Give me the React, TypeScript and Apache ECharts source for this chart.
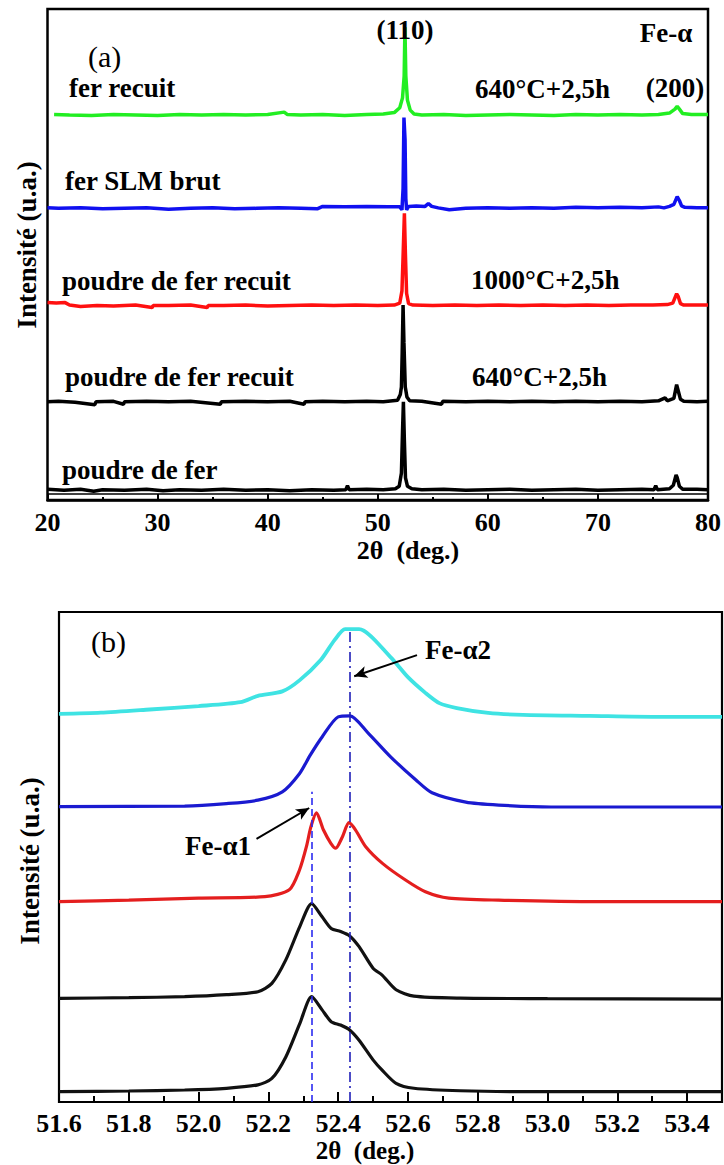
import React, { useEffect, useRef } from "react";
import * as echarts from "echarts";

const FONT = "Liberation Serif, Times New Roman, serif";

// ---------- Panel (a): wide-range XRD patterns ----------
const aTickValues = [20, 30, 40, 50, 60, 70, 80];
const aSeriesNames = [
  "poudre de fer",
  "poudre de fer recuit 640°C+2,5h",
  "poudre de fer recuit 1000°C+2,5h",
  "fer SLM brut",
  "fer recuit 640°C+2,5h",
];
const aColors = ["#000000", "#000000", "#ff1010", "#1010f0", "#22ee22"];
const aOffsets = [2, 20, 39.6, 59.4, 78.4];

const aPoudre = [
  [20, 0.2], [21.5, 0], [23, 0.2], [24.2, -0.2], [25, 0.1], [27, 0], [29, 0.2], [30.5, -0.1],
  [32, 0.1], [34, 0], [36, 0.2], [38, 0], [40, 0.1], [42, -0.1], [44, 0.1], [46, 0],
  [47.1, 0.1], [47.25, 0.9], [47.4, 0.1], [49, 0.2], [50.5, 0.1], [51.6, 0.3], [51.95, 0.8],
  [52.15, 3.5], [52.25, 12], [52.33, 18.0], [52.42, 10], [52.52, 2.5], [52.7, 0.8], [53.1, 0.3],
  [54, 0.1], [56, 0.2], [58, 0], [60, 0.1], [62, 0.2], [64, 0], [66, 0.1], [68, 0.2], [70, 0],
  [72, 0.1], [74, 0.2], [75.1, 0.1], [75.25, 0.9], [75.4, 0.1], [76.5, 0.3], [76.85, 1.0],
  [77.1, 3.1], [77.2, 2.6], [77.4, 0.8], [77.7, 0.2], [79, 0.2], [80, 0.1],
];
const aRecuit640 = [
  [20, 0], [21, 0.1], [22.5, -0.1], [24.3, -0.6], [24.4, 0], [26, 0.1], [26.9, -0.5], [27, 0],
  [29, 0.1], [31, 0], [33, 0.1], [35.7, -0.5], [35.8, 0], [38, 0.1], [40, 0], [42, 0.1],
  [43.3, -0.5], [43.4, 0], [45, 0.1], [47, 0], [49, 0.1], [50.5, 0], [51.8, 0.3], [52.05, 1.5],
  [52.15, 3], [52.22, 10], [52.3, 19.7], [52.38, 12], [52.5, 3], [52.65, 1.0], [52.9, 0.2],
  [54, 0.1], [55.8, -0.5], [55.9, 0.1], [58, 0], [60, 0.1], [62, 0], [64, 0.1], [66, 0],
  [68, 0.1], [70, 0], [72, 0.1], [74, 0], [75.5, 0.2], [76.1, 0.8], [76.3, 0.2], [76.9, 0.7],
  [77.15, 3.5], [77.3, 2.2], [77.5, 0.5], [77.8, 0.1], [79, 0], [80, 0.1],
];
const aRecuit1000 = [
  [20, 0.6], [20.8, 0.5], [21.6, 0.6], [22, 0.1], [23, -0.2], [24.5, 0], [26, -0.1], [28, 0.1],
  [29.5, -0.4], [29.6, 0], [31, 0], [33, 0.1], [34.5, -0.4], [34.6, 0], [36, 0], [38, 0.1],
  [40, -0.1], [42, 0], [44, 0.1], [46, 0], [48, 0.1], [50, 0], [51.5, 0.1], [52.0, 0.5],
  [52.2, 3], [52.3, 10], [52.42, 18.8], [52.52, 10], [52.62, 2.5], [52.8, 0.4], [53.2, 0.1],
  [55, 0], [57, 0.1], [59, 0], [61, 0.1], [63, 0], [65, 0.1], [67, 0], [69, 0.1], [71, 0],
  [73, 0.1], [75, 0.1], [76.3, 0.2], [76.8, 0.5], [77.15, 2.4], [77.3, 1.8], [77.5, 0.4],
  [77.8, 0.1], [79, 0.1], [80, 0.1],
];
const aSlmBrut = [
  [20, 0.1], [21, 0], [23, 0.1], [25, -0.1], [27, 0], [29, 0.1], [31, -0.2], [33, 0], [35, 0.1],
  [37, -0.1], [39, 0], [41, 0.1], [43, 0], [44.5, -0.1], [45, 0.4], [47, 0.3], [49, 0.4],
  [51, 0.3], [52.0, 0.3], [52.2, -0.3], [52.3, 4], [52.38, 18.5], [52.48, 14], [52.55, 2],
  [52.62, -0.3], [52.8, 0.4], [53.5, 0.5], [54.3, 0.4], [54.6, 1.0], [54.9, 0.4], [55.5, 0.1],
  [56.5, -0.3], [58, 0], [60, 0.1], [62, 0], [64, 0.1], [66, 0], [68, 0.2], [70, 0.1], [72, 0.2],
  [74, 0.1], [75.5, 0.3], [76, 0.1], [76.5, 0.4], [76.9, 0.8], [77.2, 2.4], [77.4, 1.6],
  [77.6, 0.5], [77.9, 0.2], [79, 0.1], [80, 0.1],
];
const aFerRecuit = [
  [20.6, 0.1], [22, 0], [24, -0.1], [26, 0.1], [28, 0], [30, -0.1], [32, 0.1], [34, 0], [36, 0.1],
  [38, 0], [40, 0.1], [41.5, 0.6], [41.8, 0.1], [43, 0], [45, 0.1], [47, -0.1], [49, 0.1],
  [50.5, 0.2], [51.5, 0.5], [52.0, 1.5], [52.25, 3.5], [52.4, 8], [52.47, 17.9], [52.55, 8],
  [52.7, 3], [52.95, 1.0], [53.3, 0.2], [54, 0], [56, 0.1], [58, -0.1], [60, 0], [62, 0.1],
  [64, 0], [66, -0.1], [68, 0.1], [70, 0], [72, 0.1], [74, 0], [75.5, 0.1], [76.5, 0.4],
  [77.0, 1.2], [77.2, 1.8], [77.4, 1.2], [77.7, 0.3], [78.5, 0.1], [80, 0.1],
];
const aData = [aPoudre, aRecuit640, aRecuit1000, aSlmBrut, aFerRecuit];

// ---------- Panel (b): (110) peak detail ----------
const bTickValues = [51.6, 51.8, 52.0, 52.2, 52.4, 52.6, 52.8, 53.0, 53.2, 53.4];
const bColors = ["#111111", "#111111", "#e41e1e", "#1a1ad0", "#3fe3e3"];
const bOffsets = [2, 21, 41, 60, 79];

const bPoudre = [
  [51.6, 0.1], [51.8, 0.25], [51.96, 0.45], [52.08, 0.8], [52.17, 1.5], [52.21, 2.8],
  [52.25, 7.2], [52.29, 14.0], [52.324, 19.5], [52.354, 16.8], [52.38, 14.4], [52.407, 13.7],
  [52.433, 12.7], [52.46, 10.6], [52.5, 6.6], [52.526, 4.5], [52.566, 1.8], [52.617, 0.8],
  [52.75, 0.3], [53.0, 0.1], [53.5, 0.1],
];
const bRecuit640 = [
  [51.6, 0.15], [51.8, 0.3], [51.96, 0.5], [52.08, 0.9], [52.17, 1.5], [52.21, 3.2],
  [52.25, 8.0], [52.29, 14.8], [52.324, 19.5], [52.354, 16.8], [52.38, 14.4], [52.407, 13.8],
  [52.433, 12.9], [52.46, 10.7], [52.5, 6.3], [52.526, 4.9], [52.566, 1.9], [52.617, 0.6],
  [52.75, 0.2], [53.0, 0.1], [53.5, 0.0],
];
const bRecuit1000 = [
  [51.6, -0.1], [51.8, 0.2], [52.0, 0.6], [52.19, 0.9], [52.26, 2.3], [52.289, 6.3],
  [52.309, 11.1], [52.322, 15.2], [52.338, 18.0], [52.358, 14.5], [52.379, 11.8],
  [52.393, 10.8], [52.412, 13.1], [52.431, 16.0], [52.45, 14.5], [52.479, 11.1],
  [52.527, 7.7], [52.593, 4.3], [52.65, 1.9], [52.717, 0.6], [52.86, 0.2], [53.15, -0.1],
  [53.5, -0.1],
];
const bSlmBrut = [
  [51.6, 0.3], [51.96, 0.4], [52.08, 0.9], [52.17, 1.6], [52.24, 3.3], [52.289, 7.0],
  [52.32, 10.8], [52.354, 14.5], [52.4, 18.6], [52.434, 18.8], [52.486, 15.3], [52.551, 10.4],
  [52.623, 5.7], [52.669, 3.1], [52.766, 1.2], [52.86, 0.6], [53.01, 0.2], [53.5, 0.2],
];
const bFerRecuit = [
  [51.6, 0.2], [51.72, 0.45], [51.86, 1.1], [52.0, 1.8], [52.12, 2.6], [52.17, 3.9],
  [52.24, 4.8], [52.29, 7.1], [52.35, 11.2], [52.39, 15.3], [52.42, 17.5], [52.46, 17.5],
  [52.55, 11.8], [52.6, 7.7], [52.65, 4.5], [52.69, 2.4], [52.74, 1.4], [52.83, 0.4],
  [52.93, 0.0], [53.12, -0.2], [53.31, -0.4], [53.5, -0.4],
];
const bData = [bPoudre, bRecuit640, bRecuit1000, bSlmBrut, bFerRecuit];

// reference lines (Fe-alpha1, Fe-alpha2) and their heights
const alpha1Pos = 52.325;
const alpha2Pos = 52.432;
const alpha1Top = 63.3;
const alpha2Top = 96.7;
// arrows [tail, tip]
const arrowAlpha2 = [[52.626, 91.2], [52.446, 86.9]];
const arrowAlpha1 = [[52.166, 53.7], [52.317, 60.0]];

function txt(text: string, x: number, y: number, opts: any = {}) {
  const align = opts.align || "left";
  return {
    type: "text",
    x,
    y,
    rotation: opts.rotation || 0,
    z: 100,
    style: {
      text,
      fill: "#000",
      fontFamily: FONT,
      fontSize: opts.size || 27,
      fontWeight: opts.weight || "bold",
      align,
      verticalAlign: "middle",
      textAlign: align,
      textVerticalAlign: "middle",
    },
  };
}

export default function App() {
  const ref = useRef<HTMLDivElement>(null);

  useEffect(() => {
    if (!ref.current) return;
    const chart = echarts.init(ref.current, null, { renderer: "svg" });

    const axisLabelStyle = {
      color: "#000",
      fontFamily: FONT,
      fontWeight: "bold",
      fontSize: 26,
    };

    const seriesA = aData.map((d, i) => ({
      name: aSeriesNames[i],
      type: "line",
      xAxisIndex: 0,
      yAxisIndex: 0,
      showSymbol: false,
      symbol: "none",
      data: d.map(([x, y]) => [x, y + aOffsets[i]]),
      lineStyle: { color: aColors[i], width: 3.5 },
      itemStyle: { color: aColors[i] },
      z: 2 + i,
    }));

    const seriesB: any[] = bData.map((d, i) => ({
      name: "b-" + aSeriesNames[i],
      type: "line",
      xAxisIndex: 1,
      yAxisIndex: 1,
      showSymbol: false,
      symbol: "none",
      smooth: 0.25,
      data: d.map(([x, y]) => [x, y + bOffsets[i]]),
      lineStyle: { color: bColors[i], width: i === 4 ? 3.8 : 3.2 },
      itemStyle: { color: bColors[i] },
      z: 2 + i,
    }));

    // vertical reference lines
    seriesB[0].markLine = {
      silent: true,
      symbol: ["none", "none"],
      label: { show: false },
      z: 20,
      data: [
        [
          { coord: [alpha1Pos, 0], lineStyle: { color: "#2b2bf0", width: 1.6, type: [7, 4] } },
          { coord: [alpha1Pos, alpha1Top] },
        ],
        [
          { coord: [alpha2Pos, 0], lineStyle: { color: "#2020b8", width: 1.6, type: [10, 4, 2, 4] } },
          { coord: [alpha2Pos, alpha2Top] },
        ],
      ],
    };
    // arrows
    seriesB[1].markLine = {
      silent: true,
      symbol: ["none", "arrow"],
      symbolSize: [9, 13],
      label: { show: false },
      z: 20,
      lineStyle: { color: "#000", width: 2, type: "solid" },
      data: [
        [{ coord: arrowAlpha2[0] }, { coord: arrowAlpha2[1] }],
        [{ coord: arrowAlpha1[0] }, { coord: arrowAlpha1[1] }],
      ],
    };

    const option: any = {
      animation: false,
      backgroundColor: "#ffffff",
      textStyle: { fontFamily: FONT },
      grid: [
        {
          left: 47.5,
          top: 9,
          width: 661,
          height: 491,
          show: true,
          borderColor: "#000",
          borderWidth: 2.5,
          backgroundColor: "transparent",
        },
        {
          left: 59,
          top: 612,
          width: 663,
          height: 490,
          show: true,
          borderColor: "#000",
          borderWidth: 2.2,
          backgroundColor: "transparent",
        },
      ],
      xAxis: [
        {
          type: "value",
          gridIndex: 0,
          min: aTickValues[0],
          max: aTickValues[aTickValues.length - 1],
          interval: 10,
          axisLine: { show: true, lineStyle: { color: "#000", width: 2.5 } },
          axisTick: { show: true, inside: true, length: 6, lineStyle: { color: "#000", width: 2 } },
          minorTick: { show: true, splitNumber: 2, length: 3, lineStyle: { color: "#000", width: 2 } },
          splitLine: { show: false },
          axisLabel: { ...axisLabelStyle, margin: 9 },
        },
        {
          type: "value",
          gridIndex: 1,
          min: bTickValues[0],
          max: 53.5,
          interval: 0.2,
          axisLine: { show: true, lineStyle: { color: "#000", width: 2.2 } },
          axisTick: { show: true, inside: true, length: 10, lineStyle: { color: "#000", width: 2 } },
          minorTick: { show: true, splitNumber: 2, length: 6, lineStyle: { color: "#000", width: 2 } },
          splitLine: { show: false },
          axisLabel: {
            ...axisLabelStyle,
            margin: 8,
            showMaxLabel: false,
            formatter: (v: number) => (bTickValues.some((t) => Math.abs(t - v) < 1e-6) ? v.toFixed(1) : ""),
          },
        },
      ],
      yAxis: [
        { type: "value", gridIndex: 0, min: 0, max: 100, show: false },
        { type: "value", gridIndex: 1, min: 0, max: 100, show: false },
      ],
      series: [...seriesA, ...seriesB],
      graphic: [
        // panel (a) double bottom line
        {
          type: "line",
          z: 50,
          shape: { x1: 47.5, y1: 494, x2: 708.5, y2: 494 },
          style: { stroke: "#000", lineWidth: 1.5 },
        },
        // panel (a) texts
        txt("(a)", 88, 56, { weight: "normal", size: 30 }),
        txt("fer recuit", 69, 88),
        txt("fer SLM brut", 65, 181),
        txt("poudre de fer recuit", 62, 281),
        txt("poudre de fer recuit", 65, 377),
        txt("poudre de fer", 62, 470),
        txt("640°C+2,5h", 475, 89),
        txt("1000°C+2,5h", 471, 280),
        txt("640°C+2,5h", 472, 377),
        txt("(110)", 405, 30, { align: "center" }),
        txt("Fe-α", 666, 33, { align: "center" }),
        txt("(200)", 675, 88, { align: "center" }),
        txt("2θ  (deg.)", 408, 550, { align: "center", size: 26 }),
        txt("Intensité (u.a.)", 27, 245, { align: "center", rotation: Math.PI / 2 }),
        // panel (b) texts
        txt("(b)", 91, 641, { weight: "normal", size: 30 }),
        txt("Fe-α2", 425, 650),
        txt("Fe-α1", 185, 846),
        txt("2θ  (deg.)", 365, 1150, { align: "center", size: 25 }),
        txt("Intensité (u.a.)", 30, 861, { align: "center", rotation: Math.PI / 2 }),
      ],
    };

    chart.setOption(option);
    return () => chart.dispose();
  }, []);

  return (
    <div
      ref={ref}
      style={{ position: "absolute", left: 0, top: 0, width: 724, height: 1165, background: "#fff" }}
    />
  );
}
